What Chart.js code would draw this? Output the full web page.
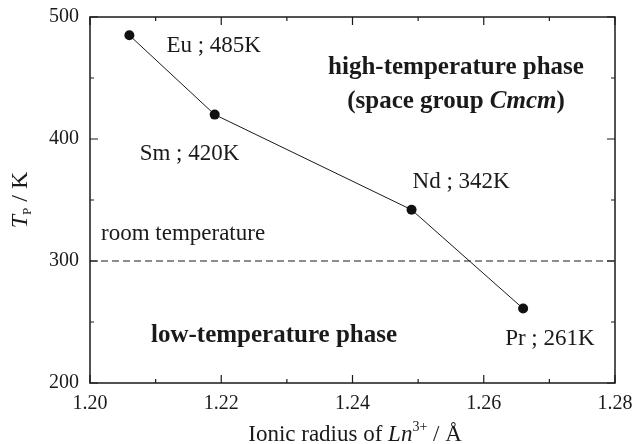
<!DOCTYPE html>
<html>
<head>
<meta charset="utf-8">
<script src="https://cdn.jsdelivr.net/npm/chart.js@4"></script>
<style>
  html, body { margin: 0; padding: 0; background: #fff; }
  #wrap { width: 639px; height: 444px; }
</style>
</head>
<body>
<div id="wrap"><canvas id="c" width="639" height="444"></canvas></div>
<script>
// ---- data ----
const elements = ['Eu', 'Sm', 'Nd', 'Pr'];
const ionicRadius = [1.206, 1.219, 1.249, 1.266];
const transitionTemp = [485, 420, 342, 261];
const roomTempX = [1.20, 1.28];
const roomTempY = [300, 300];
const xTickValues = [1.20, 1.22, 1.24, 1.26, 1.28];
const xMinorTicks = [1.21, 1.23, 1.25, 1.27];
const yTickValues = [200, 300, 400, 500];
const yMinorTicks = [250, 350, 450];

// ---- layout (pixel offsets for point labels, separate from data) ----
const labelOffsets = [[37, 17], [-75, 45], [1, -22], [-18, 36]];

const SERIF = '"Liberation Serif", "Times New Roman", serif';

const pointData = ionicRadius.map((x, i) => ({ x, y: transitionTemp[i] }));
const roomData = roomTempX.map((x, i) => ({ x, y: roomTempY[i] }));

function drawRich(ctx, parts, x, y, align) {
  let w = 0;
  parts.forEach(p => { ctx.font = p.font; w += ctx.measureText(p.t).width; });
  let cx = align === 'center' ? x - w / 2 : x;
  ctx.textAlign = 'left';
  ctx.textBaseline = 'alphabetic';
  parts.forEach(p => {
    ctx.font = p.font;
    ctx.fillText(p.t, cx, y + (p.dy || 0));
    cx += ctx.measureText(p.t).width;
  });
}

function noPad(s) {
  s.paddingTop = 0; s.paddingBottom = 0; s.paddingLeft = 0; s.paddingRight = 0;
}

const decor = {
  id: 'decor',
  afterDatasetsDraw(chart) {
    const { ctx, chartArea: a, scales } = chart;
    const xs = scales.x, ys = scales.y;
    ctx.save();
    ctx.strokeStyle = '#1a1a1a';
    ctx.lineWidth = 1.5;
    ctx.strokeRect(a.left, a.top, a.right - a.left, a.bottom - a.top);
    ctx.lineWidth = 1.2;
    ctx.beginPath();
    const tick = (vals, len, isX) => {
      vals.forEach(v => {
        if (isX) {
          const p = xs.getPixelForValue(v);
          ctx.moveTo(p, a.bottom); ctx.lineTo(p, a.bottom - len);
          ctx.moveTo(p, a.top); ctx.lineTo(p, a.top + len);
        } else {
          const p = ys.getPixelForValue(v);
          ctx.moveTo(a.left, p); ctx.lineTo(a.left + len, p);
          ctx.moveTo(a.right, p); ctx.lineTo(a.right - len, p);
        }
      });
    };
    tick(xTickValues, 8, true);
    tick(xMinorTicks, 4, true);
    tick(yTickValues, 8, false);
    tick(yMinorTicks, 4, false);
    ctx.stroke();

    // point labels
    ctx.fillStyle = '#1a1a1a';
    ctx.font = '23px ' + SERIF;
    ctx.textAlign = 'left';
    ctx.textBaseline = 'alphabetic';
    elements.forEach((el, i) => {
      const px = xs.getPixelForValue(ionicRadius[i]);
      const py = ys.getPixelForValue(transitionTemp[i]);
      ctx.fillText(el + ' ; ' + transitionTemp[i] + 'K', px + labelOffsets[i][0], py + labelOffsets[i][1]);
    });

    // room temperature label
    ctx.font = '23px ' + SERIF;
    ctx.fillText('room temperature', a.left + 11, ys.getPixelForValue(roomTempY[0]) - 21);

    // phase labels
    const B = 'bold 25px ' + SERIF;
    const BI = 'italic bold 25px ' + SERIF;
    drawRich(ctx, [{ t: 'high-temperature phase', font: B }], 456, 74, 'center');
    drawRich(ctx, [{ t: '(space group ', font: B }, { t: 'Cmcm', font: BI }, { t: ')', font: B }], 456, 108, 'center');
    drawRich(ctx, [{ t: 'low-temperature phase', font: B }], 274, 342, 'center');

    // x axis title
    const R = '23px ' + SERIF, I = 'italic 23px ' + SERIF, S = '14px ' + SERIF;
    drawRich(ctx, [{ t: 'Ionic radius of ', font: R }, { t: 'Ln', font: I }, { t: '3+', font: S, dy: -10 }, { t: ' / Å', font: R }],
      355, 441, 'center');

    // y axis title (rotated)
    ctx.translate(27, (a.top + a.bottom) / 2);
    ctx.rotate(-Math.PI / 2);
    drawRich(ctx, [{ t: 'T', font: 'italic 24px ' + SERIF }, { t: 'P', font: '13px ' + SERIF, dy: 4 }, { t: ' / K', font: '24px ' + SERIF }], 0, 0, 'center');
    ctx.restore();
  }
};

new Chart(document.getElementById('c'), {
  type: 'scatter',
  data: {
    datasets: [
      {
        data: roomData,
        showLine: true,
        borderColor: '#1a1a1a',
        borderWidth: 1.2,
        borderDash: [7, 4],
        pointRadius: 0,
        order: 2
      },
      {
        data: pointData,
        showLine: true,
        borderColor: '#1a1a1a',
        borderWidth: 1,
        backgroundColor: '#111',
        pointBackgroundColor: '#111',
        pointBorderWidth: 0,
        pointRadius: 5,
        order: 1
      }
    ]
  },
  options: {
    responsive: false,
    animation: false,
    devicePixelRatio: 1,
    layout: { padding: { top: 17, right: 24, left: 0, bottom: 0 } },
    plugins: { legend: { display: false }, tooltip: { enabled: false } },
    scales: {
      x: {
        type: 'linear',
        min: 1.20, max: 1.28,
        afterFit(s) { s.height = 61; noPad(s); },
        afterBuildTicks(s) { s.ticks = xTickValues.map(v => ({ value: v })); },
        grid: { display: false, drawTicks: false },
        border: { display: false },
        ticks: {
          padding: 9,
          color: '#1a1a1a',
          font: { family: SERIF, size: 20 },
          maxRotation: 0,
          callback: v => v.toFixed(2)
        }
      },
      y: {
        type: 'linear',
        min: 200, max: 500,
        afterFit(s) { s.width = 90; noPad(s); },
        afterBuildTicks(s) { s.ticks = yTickValues.map(v => ({ value: v })); },
        grid: { display: false, drawTicks: false },
        border: { display: false },
        ticks: {
          padding: 11,
          color: '#1a1a1a',
          font: { family: SERIF, size: 20 },
          callback: v => String(v)
        }
      }
    }
  },
  plugins: [decor]
});
</script>
</body>
</html>
